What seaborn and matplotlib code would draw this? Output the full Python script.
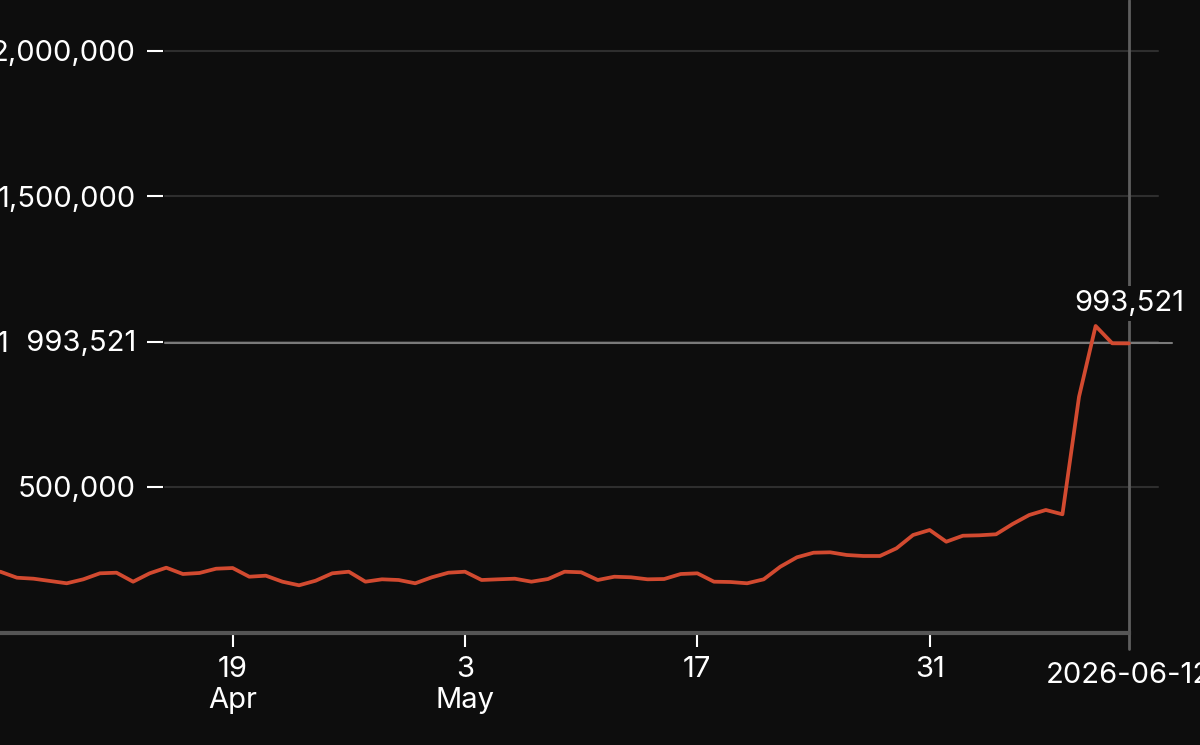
import pandas as pd
import matplotlib
matplotlib.use("Agg")
import matplotlib.pyplot as plt
import matplotlib.dates as mdates
from matplotlib.ticker import FuncFormatter
import seaborn as sns

# daily values
start_date = "2026-04-05"
end_date = "2026-06-12"
apr_values = [208900, 188300, 184900, 177000, 169100, 182800, 203400, 205500,
              174600, 203400, 222700, 201000, 204500, 219200, 221600, 191700,
              195200, 174600, 162200, 178000, 203400, 208900, 174600, 182800,
              180400, 169100]
may_values = [189700, 205500, 208900, 180400, 182800, 184900, 174600, 183800,
              208900, 206900, 180400, 191700, 189700, 182800, 183800, 201000,
              203400, 174600, 173500, 169100, 182800, 226100, 258400, 274200,
              275600, 266300, 262900, 262900, 289300, 335100, 352200]
jun_values = [312000, 332600, 334000, 337500, 372900, 403800, 421000, 406200,
              810300, 1053300, 993800, 993521]

y_ticks = [500000, 1000000, 1500000, 2000000]
x_tick_dates = ["2026-04-19", "2026-05-03", "2026-05-17", "2026-05-31"]
x_tick_labels = ["19\nApr", "3\nMay", "17", "31"]
cursor_date = "2026-06-12"
cursor_value = 993521
cursor_date_label = "2026-06-12"

df = pd.DataFrame({"date": pd.date_range(start_date, end_date),
                   "value": apr_values + may_values + jun_values})

bg = "#0d0d0d"
sns.set_theme(style="dark", rc={"axes.facecolor": bg, "figure.facecolor": bg,
                                "savefig.facecolor": bg})
plt.rcParams["font.family"] = ["Inter", "DejaVu Sans"]

W, H = 1200, 745
fig = plt.figure(figsize=(12, 7.45), dpi=100)
ax = fig.add_axes([0, (H - 632.5) / H, 1, 632.5 / H])

sns.lineplot(data=df, x="date", y="value", color="#d24a30", lw=2.7, ax=ax, zorder=4)

x0 = mdates.date2num(pd.Timestamp(start_date))
xc = mdates.date2num(pd.Timestamp(cursor_date))
px_day = 16.6
ax.set_xlim(x0 - 0.02, x0 + W / px_day)
ax.set_ylim(0, 632.5 * 500000 / 145.5)

# grid lines (do not run under the tick labels)
for v in y_ticks:
    ax.axhline(v, xmin=165 / W, xmax=1158 / W, color="#2e2e2e", lw=1.5, zorder=1)
ax.axhline(cursor_value, xmin=165 / W, xmax=1172 / W, color="#7a7a7a", lw=1.5, zorder=2)
ax.axvline(xc, ymin=-16 / 632.5, ymax=1, color="#5e5e5e", lw=2, clip_on=False, zorder=2)

for s in ["top", "right"]:
    ax.spines[s].set_visible(False)
ax.spines["left"].set_visible(False)
ax.spines["left"].set_position(("axes", 163 / W))
ax.spines["bottom"].set_color("#555555")
ax.spines["bottom"].set_linewidth(3)
ax.spines["bottom"].set_bounds(x0 - 0.02, xc)

ax.set_yticks(y_ticks)
ax.yaxis.set_major_formatter(FuncFormatter(lambda v, p: f"{v:,.0f}"))
ax.tick_params(axis="y", direction="out", length=11.5, width=1.5, color="white",
               pad=8, labelsize=21, labelcolor="white", left=True)

ax.set_xticks([mdates.date2num(pd.Timestamp(d)) for d in x_tick_dates])
ax.set_xticklabels(x_tick_labels)
ax.tick_params(axis="x", direction="out", length=10, width=1.5, color="white",
               pad=7, labelsize=21, labelcolor="white", bottom=True)
for lbl in ax.get_xticklabels():
    lbl.set_linespacing(1.2)

ax.set_xlabel("")
ax.set_ylabel("")
ax.grid(False)

# cursor readout on the y axis, boxed so it hides most of the 1,000,000 label
box = dict(boxstyle="square,pad=0.3", fc=bg, ec="none")
ax.text(136 / W, cursor_value, f" {cursor_value:,}", transform=ax.get_yaxis_transform(),
        ha="right", va="center", fontsize=21, color="white", bbox=box, zorder=6)
ax.annotate(f"{cursor_value:,}", xy=(xc, cursor_value), xytext=(0, 28.8),
            textcoords="offset points", ha="center", va="center", fontsize=21,
            color="white", bbox=dict(boxstyle="square,pad=0.15", fc=bg, ec="none"),
            zorder=6, annotation_clip=False)
ax.annotate(cursor_date_label, xy=(xc, 0), xytext=(0, -31.3),
            textcoords="offset points", ha="center", va="center", fontsize=21,
            color="white", annotation_clip=False)

fig.savefig("out.png", dpi=100, facecolor=bg)
